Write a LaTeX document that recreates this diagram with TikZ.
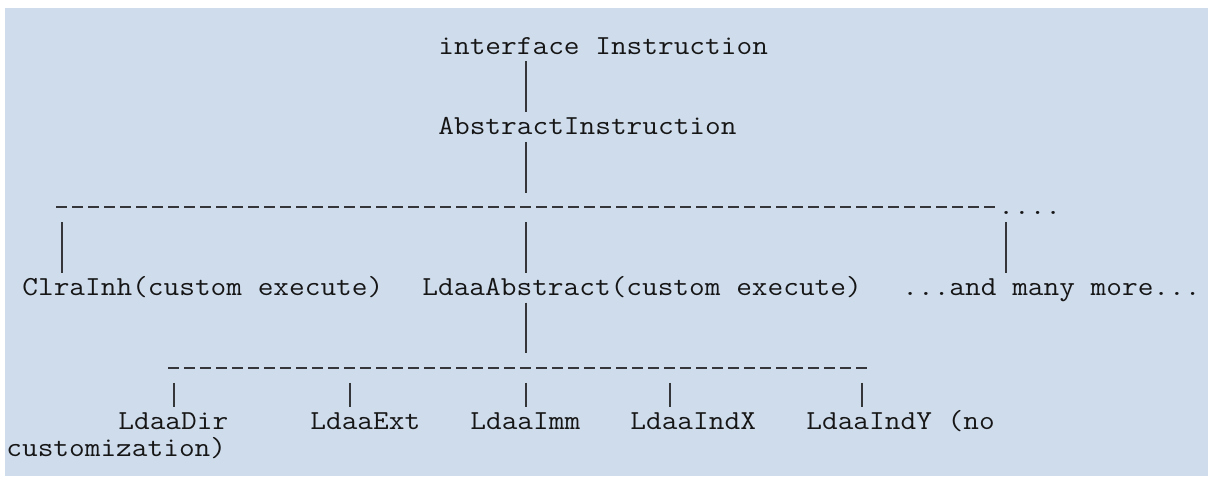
\documentclass[tikz,border=0pt]{standalone}
\usepackage{xcolor}
\usepackage{tikz}
\definecolor{preback}{RGB}{207,220,236}
\definecolor{preink}{RGB}{22,22,22}
\definecolor{prebar}{RGB}{52,54,58}
\tikzstyle{code} = [anchor=base west, inner sep=0pt, text height=11pt, text depth=3.5pt, text=preink, font=\fontsize{13.75}{16}\ttfamily]
\tikzstyle{pipe} = [line width=1pt, draw=prebar]
\tikzstyle{bus} = [inner sep=0pt, minimum height=14.3pt]
\tikzstyle{dashline} = [line width=1pt, draw=prebar, dash pattern=on 5.5pt off 2.5pt]
\newcommand{\mono}[1]{\scalebox{1.108}[1]{#1}}

\begin{document}
\begin{tikzpicture}[x=0.5pt,y=-0.5pt]
	% Frame:
	% one unit is one pixel of the screenshot, y runs downwards
	\useasboundingbox (0,0) rectangle (1208,478);
	\fill[preback] (5,8) rectangle (1208,476);

	% Columns of the pipes (every character cell is 16 wide, rows are 26.8 high)
	\foreach \c in {3,10,21,32,41,53,62}{%
		\coordinate (col\c) at ({14+16*\c},0);
	}

	% Top of the tree:
	\node[code] (iface) at ({6+16*27},{54+26.8*0}) {\mono{interface Instruction}};
	\node[code] (abs)   at ({6+16*27},{54+26.8*3}) {\mono{AbstractInstruction}};
	\draw[pipe] (iface.south -| col32) -- (abs.north -| col32);

	% First row of subclasses, hanging from a line of dashes
	\node[bus, minimum width=469.5pt] (bus1) at (526,207.3) {};
	\draw[dashline] (bus1.west) -- (bus1.east);
	\node[code] (dots) at ({6+16*62},{54+26.8*6}) {\mono{....}};
	\draw[pipe] (abs.south -| col32) -- (bus1.north -| col32);

	\node[code] (clra) at ({6+16*1},{54+26.8*9})  {\mono{ClraInh(custom execute)}};
	\node[code] (ldaa) at ({6+16*26},{54+26.8*9}) {\mono{LdaaAbstract(custom execute)}};
	\node[code] (many) at ({6+16*56},{54+26.8*9}) {\mono{...and many more...}};
	\draw[pipe] (bus1.south -| col3)  -- (clra.north -| col3);
	\draw[pipe] (bus1.south -| col32) -- (ldaa.north -| col32);
	\draw[pipe] (bus1.south -| col62) -- (many.north -| col62);

	% Second row, below LdaaAbstract
	\node[bus, minimum width=349.5pt] (bus2) at (518,368.1) {};
	\draw[dashline] (bus2.west) -- (bus2.east);
	\draw[pipe] (ldaa.south -| col32) -- (bus2.north -| col32);

	\foreach \name/\c/\txt/\p in {dir/7/LdaaDir/10, ext/19/LdaaExt/21, imm/29/LdaaImm/32, indx/39/LdaaIndX/41, indy/50/LdaaIndY (no/53}{%
		\node[code] (\name) at ({6+16*\c},{54+26.8*14}) {\mono{\txt}};
		\draw[pipe] (bus2.south -| col\p) -- (\name.north -| col\p);
	}
	\node[code] (cust) at (6,{54+26.8*15}) {\mono{customization)}};
\end{tikzpicture}
\end{document}
